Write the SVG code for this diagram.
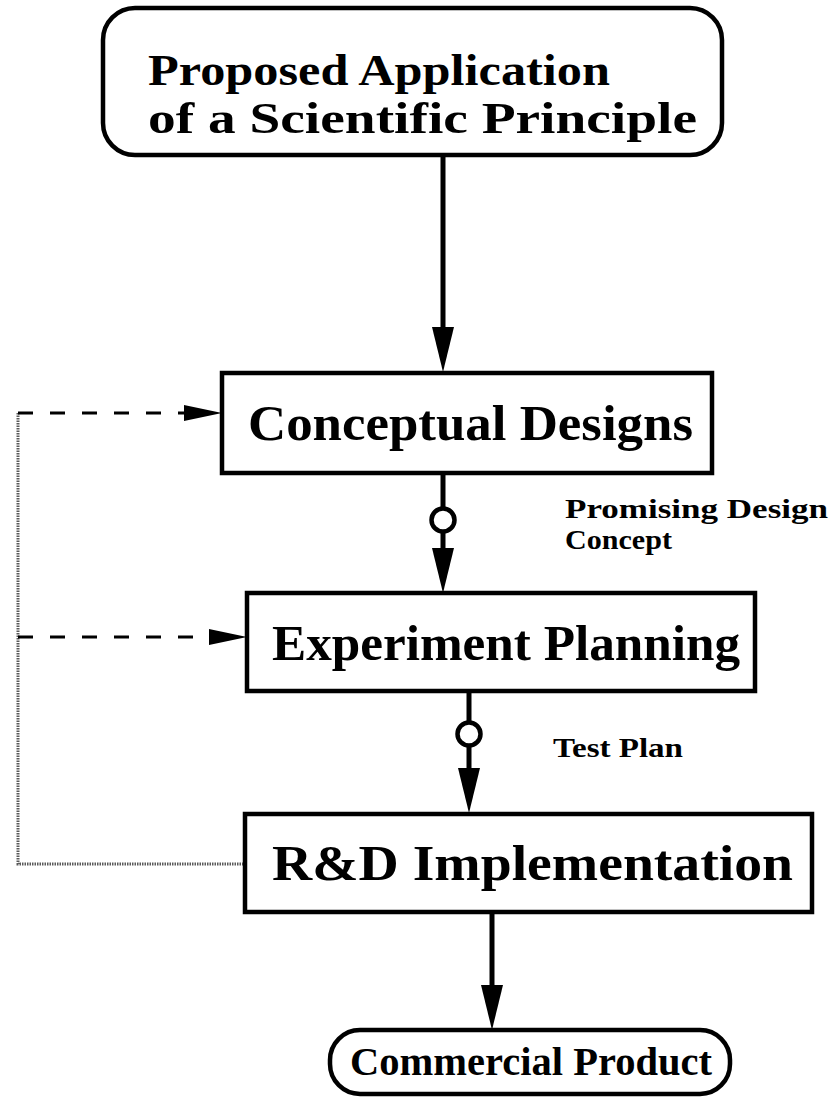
<svg xmlns="http://www.w3.org/2000/svg" width="834" height="1109" viewBox="0 0 834 1109">
<style>
.box{fill:#fff;stroke:#000;stroke-width:4.5}
.big{font-family:"Liberation Serif",serif;font-weight:bold;font-size:50px;fill:#000}
.top{font-family:"Liberation Serif",serif;font-weight:bold;font-size:45px;fill:#000}
.prod{font-family:"Liberation Serif",serif;font-weight:bold;font-size:40px;fill:#000}
.small{font-family:"Liberation Serif",serif;font-weight:bold;font-size:27px;fill:#000}
.line{stroke:#000;stroke-width:5;fill:none}
.dash{stroke:#000;stroke-width:3;fill:none;stroke-dasharray:15 17}
.fb{stroke:#5a5a5a;stroke-width:3;fill:none;stroke-dasharray:1.5 1}
.head{fill:#000}
.ring{fill:#fff;stroke:#000;stroke-width:4.5}
</style>
<rect width="834" height="1109" fill="#fff"/>
<g id="connectors">
  <path class="fb" d="M18,413 V864 H245"/>
  <line class="dash" x1="18" y1="413" x2="186" y2="413"/>
  <polygon class="head" points="184,405 222,413 184,421"/>
  <line class="dash" x1="18" y1="637" x2="210" y2="637"/>
  <polygon class="head" points="209,629 247,637 209,645"/>
  <line class="line" x1="443" y1="155" x2="443" y2="330"/>
  <polygon class="head" points="432,327 454,327 443,372"/>
  <line class="line" x1="443" y1="473" x2="443" y2="552"/>
  <circle class="ring" cx="443" cy="520" r="11.5"/>
  <polygon class="head" points="432,548 454,548 443,593"/>
  <line class="line" x1="469" y1="691" x2="469" y2="772"/>
  <circle class="ring" cx="469" cy="734" r="11.5"/>
  <polygon class="head" points="458,768 480,768 469,813"/>
  <line class="line" x1="492" y1="912" x2="492" y2="990"/>
  <polygon class="head" points="481,985 503,985 492,1030"/>
</g>
<g id="n-proposed">
  <rect class="box" x="103" y="8" width="619" height="147" rx="32"/>
  <text class="top" x="148" y="85" textLength="462" lengthAdjust="spacingAndGlyphs">Proposed Application</text>
  <text class="top" x="148" y="133" textLength="549" lengthAdjust="spacingAndGlyphs">of a Scientific Principle</text>
</g>
<g id="n-conceptual">
  <rect class="box" x="222" y="373" width="490" height="100"/>
  <text class="big" x="248" y="440" textLength="445" lengthAdjust="spacingAndGlyphs">Conceptual Designs</text>
</g>
<g id="n-experiment">
  <rect class="box" x="247" y="593" width="508" height="98"/>
  <text class="big" x="272" y="660" textLength="468" lengthAdjust="spacingAndGlyphs">Experiment Planning</text>
</g>
<g id="n-rd">
  <rect class="box" x="245" y="814" width="567" height="98"/>
  <text class="big" x="272" y="880" textLength="521" lengthAdjust="spacingAndGlyphs">R&amp;D Implementation</text>
</g>
<g id="n-commercial">
  <rect class="box" x="330" y="1030" width="400" height="64" rx="30"/>
  <text class="prod" x="350" y="1075" textLength="362" lengthAdjust="spacingAndGlyphs">Commercial Product</text>
</g>
<g id="labels">
  <text class="small" x="565" y="518" textLength="263" lengthAdjust="spacingAndGlyphs">Promising Design</text>
  <text class="small" x="565" y="549" textLength="107" lengthAdjust="spacingAndGlyphs">Concept</text>
  <text class="small" x="553" y="757" textLength="130" lengthAdjust="spacingAndGlyphs">Test Plan</text>
</g>
</svg>
